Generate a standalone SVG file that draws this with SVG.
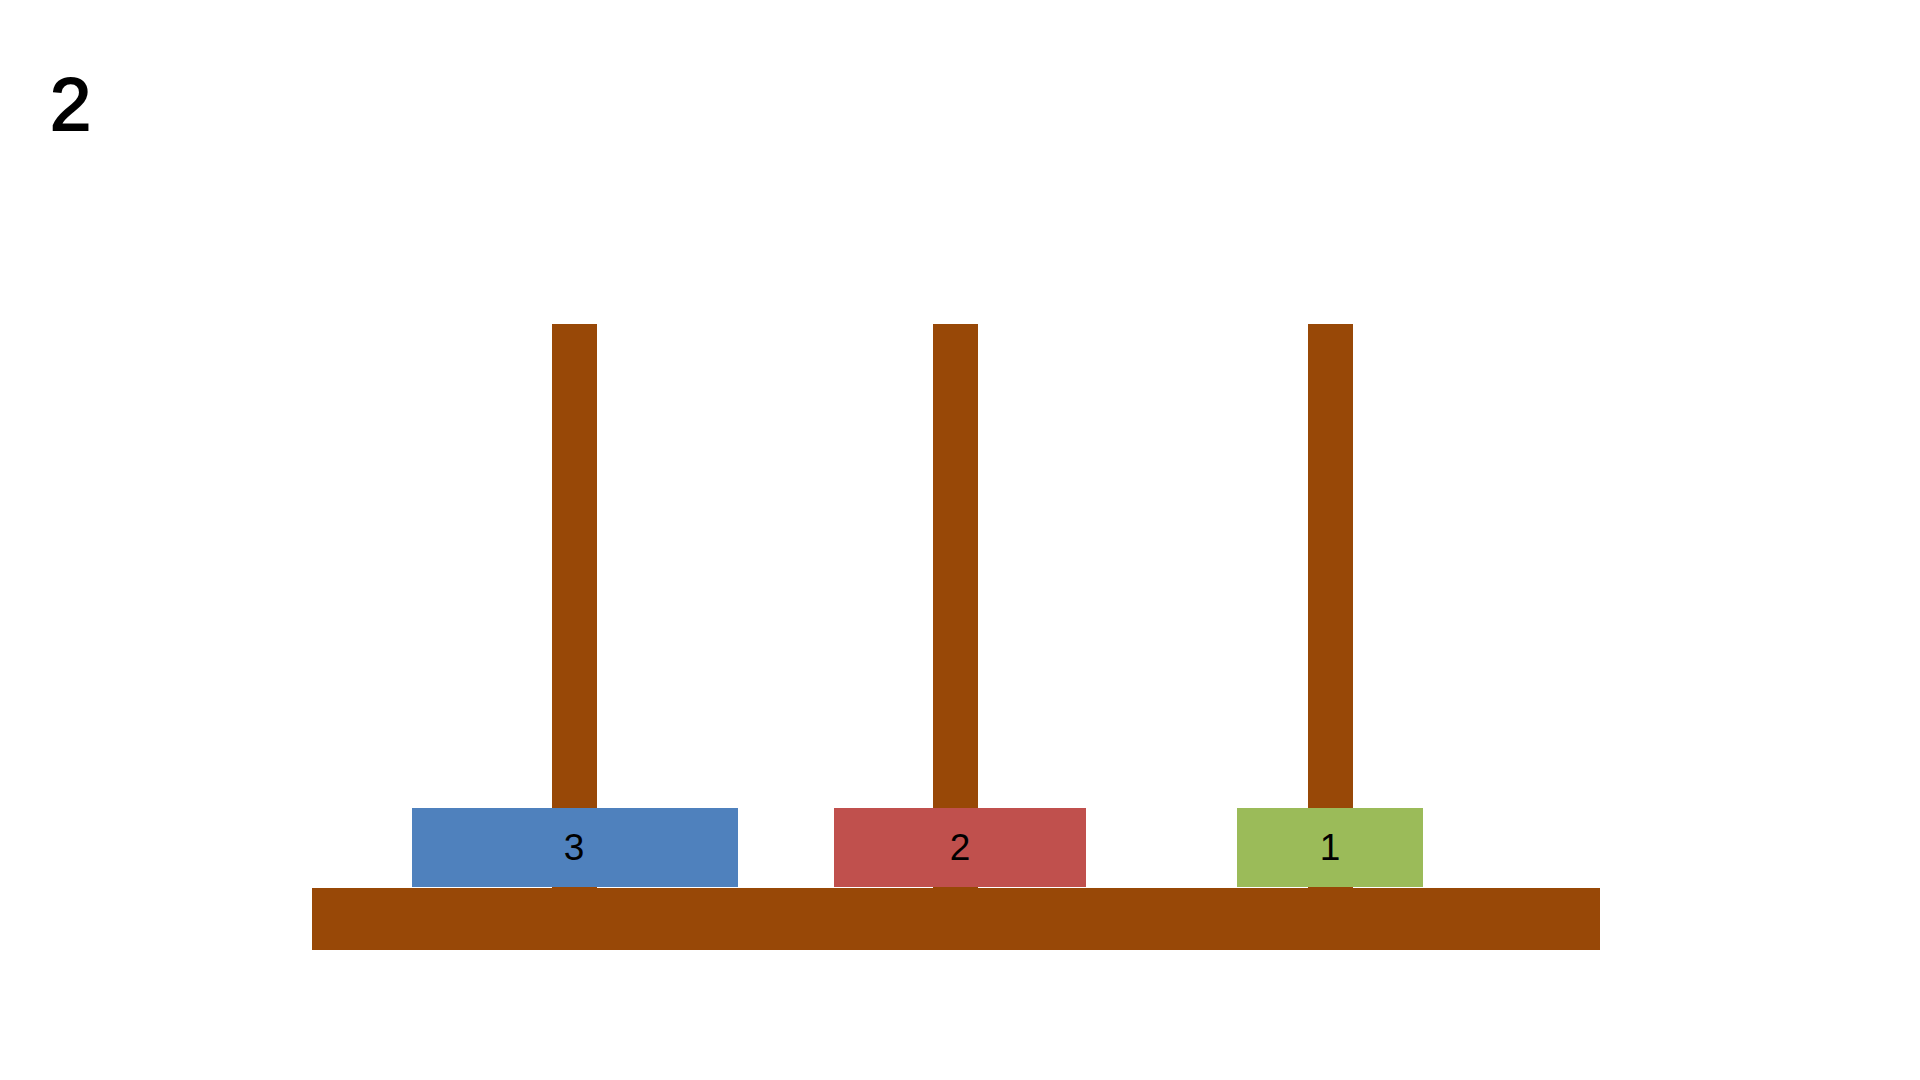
<svg xmlns="http://www.w3.org/2000/svg" width="1920" height="1080" viewBox="0 0 1920 1080">
<style>
.wood{fill:#984807}
.lbl{font-family:"Liberation Sans",Arial,sans-serif;font-size:37px;fill:#000;text-anchor:middle}
</style>
<rect width="1920" height="1080" fill="#fff"/>
<text x="50" y="130" font-family="Liberation Sans, Arial, sans-serif" font-size="74" fill="#000" stroke="#000" stroke-width="2">2</text>
<g id="base"><rect class="wood" x="312" y="888" width="1288" height="62"/></g>
<g id="pole-1"><rect class="wood" x="552" y="324" width="45" height="564"/></g>
<g id="pole-2"><rect class="wood" x="933" y="324" width="45" height="564"/></g>
<g id="pole-3"><rect class="wood" x="1308" y="324" width="45" height="564"/></g>
<g id="disk-3"><rect x="412" y="808" width="326" height="79" fill="#4F81BD"/><text class="lbl" x="574" y="860">3</text></g>
<g id="disk-2"><rect x="834" y="808" width="252" height="79" fill="#C0504D"/><text class="lbl" x="960" y="860">2</text></g>
<g id="disk-1"><rect x="1237" y="808" width="186" height="79" fill="#9BBB59"/><text class="lbl" x="1330" y="860">1</text></g>
<g id="connectors"/>
</svg>
